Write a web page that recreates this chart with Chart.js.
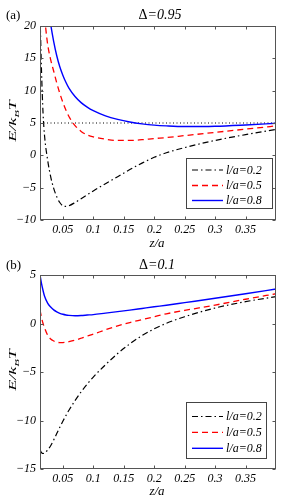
<!DOCTYPE html>
<html><head><meta charset="utf-8">
<script src="https://cdn.jsdelivr.net/npm/chart.js@4/dist/chart.umd.min.js"></script>
<style>
html,body{margin:0;padding:0;background:#fff;}
#wrap{position:relative;width:283px;height:501px;}
.c{position:absolute;left:0;}
canvas{display:block;}
</style></head><body>
<div id="wrap">
<div class="c" style="top:0"><canvas id="ca" width="283" height="250"></canvas></div>
<div class="c" style="top:250px"><canvas id="cb" width="283" height="251"></canvas></div>
</div>
<script>
// ---------------- data ----------------
const zValues   = [0.0125,0.015,0.0175,0.02,0.025,0.03,0.035,0.04,0.045,0.05,0.055,0.06,0.07,0.08,0.09,0.1,0.12,0.14,0.16,0.18,0.2,0.22,0.25,0.3,0.35,0.4];
const seriesLabels = ['l/a=0.2','l/a=0.5','l/a=0.8'];

// panel (a): Delta = 0.95
const topBlack = [22,13,6.5,3,-0.7,-3.3,-5.1,-6.4,-7.3,-7.8,-7.9,-7.8,-7.3,-6.7,-6.1,-5.5,-4.4,-3.3,-2.2,-1.2,-0.3,0.4,1.2,2.3,3.2,4.0];
const topRed   = [null,null,null,21.3,17.2,14.8,13.0,11.2,9.6,8.2,7.0,6.0,4.6,3.7,3.15,2.85,2.5,2.3,2.3,2.42,2.6,2.75,3.05,3.55,4.05,4.55];
const topBlue  = [null,null,null,null,24,20.3,17.6,15.4,13.7,12.4,11.3,10.4,9.1,8.15,7.45,6.9,6.1,5.55,5.15,4.87,4.67,4.55,4.45,4.5,4.7,4.95];
const refZ = [0.0125,0.4];
const refLevelTop = [5,5];

// panel (b): Delta = 0.1
const botBlack = [-13.0,-13.3,-13.4,-13.35,-13.05,-12.6,-12.0,-11.35,-10.7,-10.08,-9.5,-8.95,-7.95,-7.05,-6.25,-5.52,-4.25,-3.1,-2.1,-1.25,-0.55,0.02,0.7,1.6,2.25,2.78];
const botRed   = [1.4,0.6,0.0,-0.45,-1.2,-1.6,-1.8,-1.92,-1.97,-1.97,-1.93,-1.87,-1.72,-1.52,-1.3,-1.1,-0.65,-0.25,0.1,0.4,0.7,1.0,1.35,1.9,2.5,3.07];
const botBlue  = [5.0,4.1,3.4,2.8,2.1,1.7,1.4,1.2,1.05,0.95,0.88,0.84,0.8,0.82,0.87,0.92,1.07,1.22,1.38,1.55,1.72,1.88,2.15,2.6,3.07,3.55];

const xTickValues = [0.05,0.1,0.15,0.2,0.25,0.3,0.35];
const topYTicks = [-10,-5,0,5,10,15,20];
const botYTicks = [-15,-10,-5,0,5];

// ---------------- helpers ----------------
const SERIF = '"Liberation Serif","Times New Roman",serif';
function pts(zs, arr){ const o=[]; zs.forEach((z,i)=>{ if(arr[i]!=null) o.push({x:z,y:arr[i]}); }); return o; }
function fmt(v){ return (v<0?'\u2212':'') + String(Math.abs(v)); }
const styles = [
  {borderColor:'#000000', borderDash:[6,3,1.5,3], borderWidth:1.2},
  {borderColor:'#ff0000', borderDash:[6,4], borderWidth:1.3},
  {borderColor:'#0000ff', borderDash:[], borderWidth:1.4}
];

const decorPlugin = {
  id:'decor',
  afterDatasetsDraw(chart, args, o){
    const ctx = chart.ctx, a = chart.chartArea;
    const xs = chart.scales.x, ys = chart.scales.y;
    ctx.save();
    // frame
    ctx.strokeStyle = '#555'; ctx.lineWidth = 1; ctx.setLineDash([]);
    const L=Math.round(a.left)+0.5, R=Math.round(a.right)-0.5, T=Math.round(a.top)+0.5, B=Math.round(a.bottom)-0.5;
    ctx.strokeRect(L, T, R-L, B-T);
    // inward ticks on all sides
    ctx.beginPath();
    xTickValues.forEach(v=>{ const p=Math.round(xs.getPixelForValue(v))+0.5; ctx.moveTo(p,B); ctx.lineTo(p,B-3); ctx.moveTo(p,T); ctx.lineTo(p,T+3); });
    ys.ticks.forEach(t=>{ const p=Math.round(ys.getPixelForValue(t.value))+0.5; ctx.moveTo(L,p); ctx.lineTo(L+3,p); ctx.moveTo(R,p); ctx.lineTo(R-3,p); });
    ctx.stroke();
    // legend box
    const lg = o.legend;
    ctx.fillStyle = '#fff'; ctx.fillRect(lg.x, lg.y, lg.w, lg.h);
    ctx.strokeStyle = '#444'; ctx.strokeRect(lg.x+0.5, lg.y+0.5, lg.w, lg.h);
    chart.data.datasets.forEach((ds,i)=>{
      if(ds.noLegend) return;
      const yy = lg.rows[i];
      ctx.strokeStyle = ds.borderColor; ctx.lineWidth = ds.borderWidth; ctx.setLineDash(ds.borderDash||[]);
      ctx.beginPath(); ctx.moveTo(lg.x+6, yy); ctx.lineTo(lg.x+37, yy); ctx.stroke();
      ctx.setLineDash([]);
      ctx.fillStyle = '#000'; ctx.font = 'italic 12px '+SERIF; ctx.textBaseline='middle'; ctx.textAlign='left';
      ctx.fillText(ds.label, lg.x+40, yy+0.5);
    });
    ctx.restore();
  },
  afterDraw(chart, args, o){
    const ctx = chart.ctx, a = chart.chartArea;
    const cx = (a.left+a.right)/2;
    ctx.save();
    ctx.fillStyle = '#000'; ctx.textBaseline = 'alphabetic';
    // panel label
    ctx.font = '13px '+SERIF; ctx.textAlign='left';
    ctx.fillText(o.panel, 6, o.titleY);
    // title: upright Delta + italic value
    ctx.font = '14px '+SERIF; const w1 = ctx.measureText('\u0394').width;
    ctx.font = 'italic 14px '+SERIF; const w2 = ctx.measureText(o.titleVal).width;
    const x0 = o.titleX - (w1+w2)/2;
    ctx.font = '14px '+SERIF; ctx.fillText('\u0394', x0, o.titleY);
    ctx.font = 'italic 14px '+SERIF; ctx.fillText(o.titleVal, x0+w1, o.titleY);
    // x label
    ctx.font = 'italic 13px '+SERIF; ctx.textAlign='center';
    ctx.fillText('z/a', cx-1, o.xlabY);
    // y label E/k_B T, rotated
    const cy = (a.top+a.bottom)/2 - 2;
    ctx.translate(16, cy); ctx.rotate(-Math.PI/2); ctx.scale(1.8,1);
    ctx.textAlign='left';
    ctx.font = 'italic 10px '+SERIF;
    const p1='E/k', p3='T';
    const wa = ctx.measureText(p1).width, wc = ctx.measureText(p3).width;
    ctx.font = 'italic 7px '+SERIF; const wb = ctx.measureText('B').width;
    let x = -(wa+wb+wc)/2;
    ctx.font = 'italic 10px '+SERIF; ctx.fillText(p1, x, 0); x += wa;
    ctx.font = 'italic 7px '+SERIF; ctx.fillText('B', x, 3); x += wb;
    ctx.font = 'italic 10px '+SERIF; ctx.fillText(p3, x, 0);
    ctx.restore();
  }
};

function makeChart(id, black, red, blue, yMin, yMax, yTicks, withRef, pad, xAxisH, decor){
  const datasets = [
    Object.assign({label:seriesLabels[0], data:pts(zValues,black)}, styles[0]),
    Object.assign({label:seriesLabels[1], data:pts(zValues,red)}, styles[1]),
    Object.assign({label:seriesLabels[2], data:pts(zValues,blue)}, styles[2])
  ];
  if(withRef) datasets.push({label:'', noLegend:true, data:pts(refZ,refLevelTop), borderColor:'#000', borderWidth:1, borderDash:[1,2.5]});
  datasets.forEach(d=>{ d.pointRadius=0; d.fill=false; d.cubicInterpolationMode='monotone'; d.clip=0; });
  return new Chart(document.getElementById(id), {
    type:'line',
    data:{datasets},
    options:{
      responsive:false, animation:false, devicePixelRatio:1,
      layout:{padding:pad},
      plugins:{legend:{display:false}, tooltip:{enabled:false}, title:{display:false}, decor},
      scales:{
        x:{type:'linear', min:0.0125, max:0.4,
           grid:{display:false, drawTicks:false}, border:{display:false},
           afterBuildTicks:s=>{ s.ticks = xTickValues.map(v=>({value:v})); },
           afterFit:s=>{ s.height = xAxisH; },
           ticks:{font:{family:SERIF, style:'italic', size:12}, color:'#000', padding:3, maxRotation:0, autoSkip:false, callback:v=>fmt(v)}},
        y:{type:'linear', min:yMin, max:yMax,
           grid:{display:false, drawTicks:false}, border:{display:false},
           afterBuildTicks:s=>{ s.ticks = yTicks.map(v=>({value:v})); },
           afterFit:s=>{ s.width = 40; },
           ticks:{font:{family:SERIF, style:'italic', size:12}, color:'#000', padding:4, autoSkip:false, callback:v=>fmt(v)}}
      }
    },
    plugins:[decorPlugin]
  });
}

makeChart('ca', topBlack, topRed, topBlue, -10, 20, topYTicks, true,
  {left:0, right:7, top:26, bottom:0}, 30,
  {panel:'(a)', titleVal:'=0.95', titleX:160, titleY:19, xlabY:247,
   legend:{x:186, y:158, w:86, h:50, rows:[170,185.5,200.5]}});
makeChart('cb', botBlack, botRed, botBlue, -15, 5, botYTicks, false,
  {left:0, right:7, top:25, bottom:0}, 32,
  {panel:'(b)', titleVal:'=0.1', titleX:157, titleY:19, xlabY:245,
   legend:{x:186, y:152, w:80, h:56, rows:[166.5,182.3,198.3]}});
</script>
</body></html>
